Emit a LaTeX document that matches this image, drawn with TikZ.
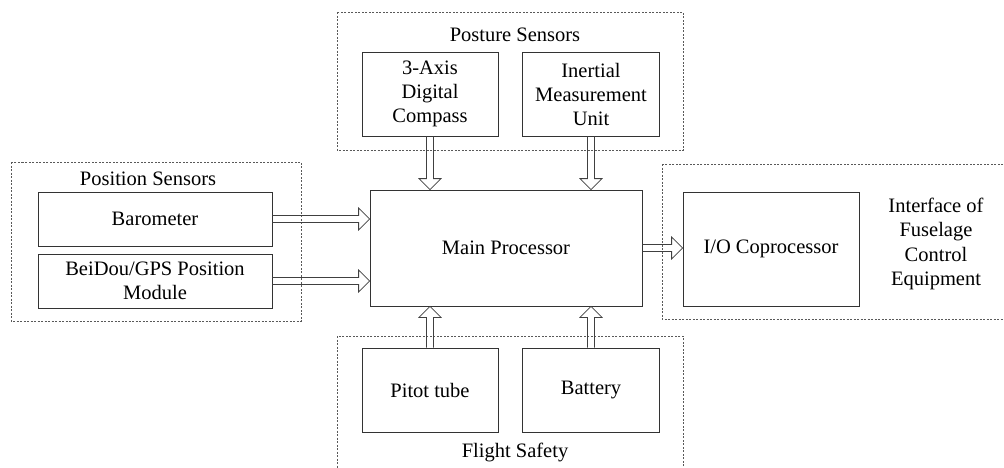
\documentclass[tikz,border=0pt]{standalone}
\usepackage{fontspec}
\setmainfont{Liberation Serif}
\newfontfamily\tnr{Liberation Serif}
\usetikzlibrary{calc}
\tikzset{
  blk/.style={draw=black!80, line width=0.8pt, inner sep=0pt, align=center,
    font=\tnr\fontsize{20.5}{24}\selectfont},
  grp/.style={draw=black!65, line width=0.7pt, dash pattern=on 2pt off 1.5pt},
  lbl/.style={inner sep=0pt, align=center, font=\tnr\fontsize{20.5}{24.5}\selectfont},
  hollow/.style={draw=black!75, line width=0.8pt, line join=miter,
    to path={let \p1=(\tikztostart), \p2=(\tikztotarget),
      \p3=($(\p2)!11pt!(\p1)$) in
      ($(\p1)!3.5pt!90:(\p2)$) -- ($(\p3)!3.5pt!90:(\p2)$) --
      ($(\p3)!11pt!90:(\p2)$) -- (\p2) -- ($(\p3)!11pt!-90:(\p2)$) --
      ($(\p3)!3.5pt!-90:(\p2)$) -- ($(\p1)!3.5pt!-90:(\p2)$)}}
}
\begin{document}
\begin{tikzpicture}[x=1pt,y=-1pt]
\useasboundingbox (0,0) rectangle (1004,467);
\clip (0,0) rectangle (1004,467);
% group frames
\draw[grp] (337,12) rectangle (683,150);
\draw[grp] (11,162) rectangle (301,321);
\draw[grp] (662,164) rectangle (1010,319);
\draw[grp] (337,336) rectangle (683,480);
% group labels
\node[lbl] (lpost) at (515,35) {Posture Sensors};
\node[lbl] (lpos) at (148,179) {Position Sensors};
\node[lbl] (lfly) at (515,452) {Flight Safety};
\node[lbl] (lint) at (936,244) {Interface of\\Fuselage\\Control\\Equipment};
% blocks
\node[blk, minimum width=136pt, minimum height=84pt] (comp) at (430,94) {3-Axis\\Digital\\Compass};
\node[blk, minimum width=137pt, minimum height=84pt] (imu) at (591,94) {Inertial\\Measurement\\Unit};
\node[blk, minimum width=272pt, minimum height=116pt] (main) at (506,248) {Main Processor};
\node[blk, minimum width=234pt, minimum height=54pt] (baro) at (155,219) {Barometer};
\node[blk, minimum width=234pt, minimum height=54pt] (bei) at (155,281) {BeiDou/GPS Position\\Module};
\node[blk, minimum width=176pt, minimum height=114pt] (io) at (771,249) {I/O Coprocessor};
\node[blk, minimum width=136pt, minimum height=84pt] (pitot) at (430,390) {Pitot tube};
\node[blk, minimum width=137pt, minimum height=84pt] (batt) at (591,390) {Battery};
% connectors
\draw[hollow] (comp.south) to (comp.south |- main.north);
\draw[hollow] (imu.south) to (imu.south |- main.north);
\draw[hollow] (baro.east) to (baro.east -| main.west);
\draw[hollow] (bei.east) to (bei.east -| main.west);
\draw[hollow] (main.east) to (main.east -| io.west);
\draw[hollow] (pitot.north) to (pitot.north |- main.south);
\draw[hollow] (batt.north) to (batt.north |- main.south);
\end{tikzpicture}
\end{document}
